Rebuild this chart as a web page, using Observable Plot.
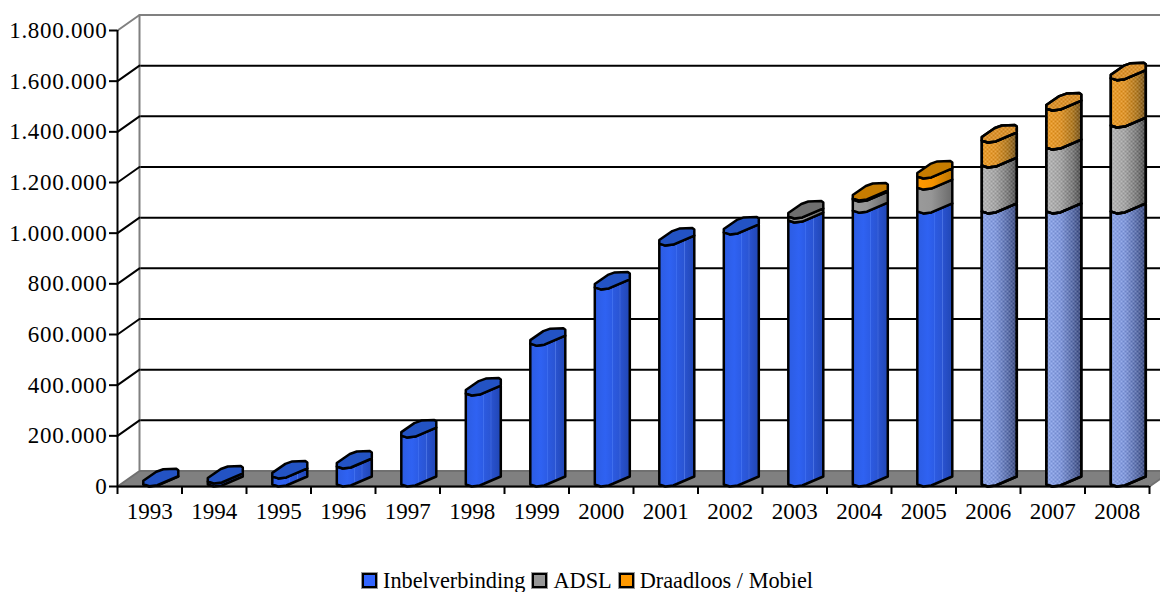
<!DOCTYPE html>
<html>
<head>
<meta charset="utf-8">
<script src="https://cdn.jsdelivr.net/npm/d3@7"></script>
<script src="https://cdn.jsdelivr.net/npm/@observablehq/plot@0.6"></script>
<style>
  html, body { margin: 0; padding: 0; background: #fff; }
  #chart svg { display: block; overflow: hidden; }
  #chart g[aria-label="y-axis tick label"] text { letter-spacing: 0.7px; }
  #legend { display: flex; align-items: center; height: 23px; padding: 9px 0 0 362px;
            font: 22.3px "Liberation Serif", serif; color: #000; white-space: nowrap; }
  #legend i { display: inline-block; width: 11px; height: 11px; border: 2px solid #000; outline: 1px solid #999;
              margin-right: 6px; }
  #legend span { margin-right: 7px; }
</style>
</head>
<body>
<div id="chart"></div>
<div id="legend"></div>
<script>
// Internet connections per year, stacked by access type
const years = [1993, 1994, 1995, 1996, 1997, 1998, 1999, 2000, 2001, 2002, 2003, 2004, 2005, 2006, 2007, 2008];
const dialup = [1000, 12000, 32000, 71000, 193000, 359000, 556000, 778000, 951000, 995000, 1042000, 1081000, 1078000, 1078000, 1078000, 1078000];
const adsl = [0, 0, 0, 0, 0, 0, 0, 0, 0, 0, 16000, 44000, 94000, 181000, 252000, 339000];
const mobile = [0, 0, 0, 0, 0, 0, 0, 0, 0, 0, 0, 4000, 44000, 99000, 154000, 187000];
const seriesNames = ["Inbelverbinding", "ADSL", "Draadloos / Mobiel"];
const seriesColors = ["#3366ff", "#969696", "#ff9900"];
const yTicks = d3.range(0, 1800001, 200000);

const width = 1160, height = 560;
const margin = {top: 30, right: 11, bottom: 74, left: 117};
const xStep = (width - margin.left - margin.right) / years.length;
const yUnit = 1800000 / (height - margin.top - margin.bottom);

// Oblique box depth, converted to scale units
const depthX = 22 / xStep;
const depthY = 15.5 * yUnit;

// Cylinder ring outline in drawing units, rightwards and upwards from its lowest front point.
const frontArc = [[0, 2], [6, 0], [14, 1], [35, 10]];
const backArc = [[35, 16], [33, 17.5], [20, 17], [13, 14.5], [0, 5.5]];
const cylShift = -0.1;

const lastYear = years[years.length - 1];
const xMin = years[0] - 0.5, xMax = lastYear + 0.5;

const place = (year, value, [dx, dy]) => ({x: year + cylShift + dx / xStep, y: value + dy * yUnit});

function sidePolygon(id, year, lo, hi) {
  const top = frontArc.map((p) => place(year, hi, p));
  const bottom = frontArc.slice().reverse().map((p) => place(year, lo, p));
  return [...top, ...bottom, top[0]].map((p) => ({...p, id}));
}
function capPolygon(id, year, value) {
  const ringPoints = [...frontArc, ...backArc, frontArc[0]];
  return ringPoints.map((p) => ({...place(year, value, p), id}));
}

const sides = [[], [], []];
const tops = [[], [], []];
const ditherSides = [[], [], []];
const ditherTops = [[], [], []];
years.forEach((year, i) => {
  const parts = [dialup[i], adsl[i], mobile[i]];
  const dithered = year >= 2006;
  let base = 0, lastKind = 0;
  parts.forEach((v, k) => {
    if (v > 0) {
      (dithered ? ditherSides : sides)[k].push(...sidePolygon(`${year}-${k}`, year, base, base + v));
      base += v;
      lastKind = k;
    }
  });
  (dithered ? ditherTops : tops)[lastKind].push(...capPolygon(`${year}-cap`, year, base));
});

const outline = {x: "x", y: "y", z: "id", stroke: "#000", strokeWidth: 2.5, strokeLinejoin: "round", curve: "linear"};

// Gradients and the dither pattern referenced by the cylinder fills
function defs() {
  const svg = d3.create("svg:g");
  const d = svg.append("defs");
  const grad = (id, stops) => {
    const g = d.append("linearGradient").attr("id", id).attr("x1", 0).attr("x2", 1).attr("y1", 0).attr("y2", 0);
    stops.forEach(([o, c]) => g.append("stop").attr("offset", o).attr("stop-color", c));
  };
  grad("side0", [[0, "#2c5ce2"], [0.3, "#2f62f2"], [0.48, "#2c5ce6"], [0.5, "#4676f4"], [0.52, "#2c5ae0"], [0.7, "#2a55d4"],
                 [0.72, "#4770e2"], [0.74, "#2952ce"], [1, "#2046b4"]]);
  grad("side1", [[0, "#9a9a9a"], [0.4, "#969696"], [1, "#6a6a6a"]]);
  grad("side2", [[0, "#ff9900"], [0.45, "#f59300"], [1, "#bb7400"]]);
  grad("dsid0", [[0, "#8aa6f2"], [0.4, "#7c96e2"], [0.75, "#5268aa"], [1, "#2f3f78"]]);
  grad("dsid1", [[0, "#b8b8b8"], [0.4, "#a4a4a4"], [0.75, "#767676"], [1, "#444444"]]);
  grad("dsid2", [[0, "#f59a18"], [0.4, "#e6921a"], [0.75, "#b07414"], [1, "#6e4a10"]]);
  const p = d.append("pattern").attr("id", "dither").attr("width", 4).attr("height", 4).attr("patternUnits", "userSpaceOnUse");
  p.append("rect").attr("x", 0).attr("y", 0).attr("width", 2).attr("height", 2).attr("fill", "#fff").attr("fill-opacity", 0.2);
  p.append("rect").attr("x", 2).attr("y", 2).attr("width", 2).attr("height", 2).attr("fill", "#fff").attr("fill-opacity", 0.2);
  p.append("rect").attr("x", 2).attr("y", 0).attr("width", 2).attr("height", 2).attr("fill", "#000").attr("fill-opacity", 0.1);
  p.append("rect").attr("x", 0).attr("y", 2).attr("width", 2).attr("height", 2).attr("fill", "#000").attr("fill-opacity", 0.1);
  return svg.node();
}

// Floor of the box
const floor = [
  {x: xMin, y: 0}, {x: xMax, y: 0}, {x: xMax + depthX, y: depthY}, {x: xMin + depthX, y: depthY}, {x: xMin, y: 0}
];
// Diagonals joining the front axis ticks to the back wall
const diagonals = yTicks.flatMap((v) => [{x: xMin, y: v, id: v}, {x: xMin + depthX, y: v + depthY, id: v}]);
const wallLines = yTicks.map((v) => ({y: v + depthY}));
const topValue = yTicks[yTicks.length - 1];

const plot = Plot.plot({
  width, height,
  marginTop: margin.top, marginRight: margin.right, marginBottom: margin.bottom, marginLeft: margin.left,
  style: {background: "#fff", overflow: "hidden"},
  x: {type: "linear", domain: [xMin, xMax]},
  y: {type: "linear", domain: [0, topValue]},
  marks: [
    defs,
    // Back wall grid
    Plot.ruleY(wallLines.filter((d) => d.y > depthY && d.y < topValue + depthY), {
      y: "y", x1: xMin + depthX, x2: xMax + depthX, stroke: "#000", strokeWidth: 2
    }),
    Plot.ruleY([topValue + depthY], {x1: xMin + depthX, x2: xMax + depthX, stroke: "#808080", strokeWidth: 2}),
    Plot.ruleX([xMin + depthX], {y1: depthY, y2: topValue + depthY, stroke: "#808080", strokeWidth: 2}),
    // Left wall diagonals
    Plot.line(diagonals.filter((d) => d.id > 0 && d.id < topValue), {x: "x", y: "y", z: "id", stroke: "#000", strokeWidth: 2}),
    Plot.line(diagonals.filter((d) => d.id === topValue), {x: "x", y: "y", z: "id", stroke: "#808080", strokeWidth: 2}),
    // Floor
    Plot.line(floor, {x: "x", y: "y", fill: "#808080", stroke: "#707070", strokeWidth: 2}),
    // Axes
    Plot.ruleY([0], {x1: xMin, x2: xMax, stroke: "#000", strokeWidth: 2}),
    Plot.ruleX([xMin], {y1: 0, y2: topValue, stroke: "#000", strokeWidth: 2}),
    Plot.axisY(yTicks, {
      anchor: "left", tickSize: 8, tickPadding: 2, stroke: "#000", strokeWidth: 2,
      tickFormat: (d) => d3.format(",")(d).replace(/,/g, "."),
      fontSize: 23, fontFamily: "Liberation Serif", fill: "#000", label: null
    }),
    Plot.axisX(d3.range(xMin, xMax + 1), {
      anchor: "bottom", tickSize: 8, tickFormat: () => "", stroke: "#000", strokeWidth: 2, label: null
    }),
    Plot.axisX(years, {
      anchor: "bottom", tickSize: 0, tickPadding: 16, tickFormat: (d) => String(d),
      fontSize: 23, fontFamily: "Liberation Serif", fill: "#000", label: null
    }),
    // Cylinders: solid years
    ...[0, 1, 2].map((k) => Plot.line(sides[k], {...outline, fill: `url(#side${k})`})),
    ...[0, 1, 2].map((k) => Plot.line(tops[k], {...outline, fill: ["#2353c4", "#6f6f6f", "#c67c00"][k]})),
    // Cylinders: dithered years
    ...[0, 1, 2].map((k) => Plot.line(ditherSides[k], {...outline, fill: `url(#dsid${k})`})),
    ...[0, 1, 2].map((k) => Plot.line(ditherSides[k], {...outline, fill: "url(#dither)"})),
    ...[0, 1, 2].map((k) => Plot.line(ditherTops[k], {...outline, fill: ["#7f94d0", "#9a9a9a", "#e08d1a"][k]})),
    ...[0, 1, 2].map((k) => Plot.line(ditherTops[k], {...outline, fill: "url(#dither)"}))
  ]
});
document.getElementById("chart").append(plot);

// Legend below the chart
const legend = d3.select("#legend");
seriesNames.forEach((name, k) => {
  legend.append("i").style("background", seriesColors[k]);
  legend.append("span").text(name);
});
</script>
</body>
</html>
